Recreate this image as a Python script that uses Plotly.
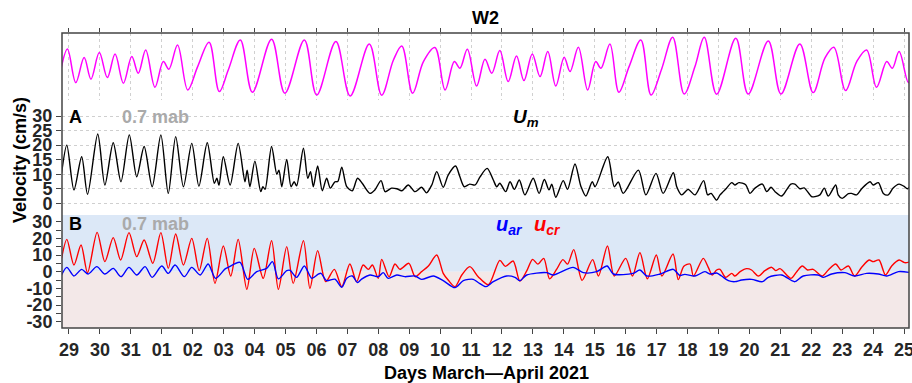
import plotly.graph_objects as go

# ---- data (time in days since 29 March 2021 00:00) ----
level_t = [-0.26, -0.05, 0.22, 0.49, 0.71, 0.98, 1.24, 1.49, 1.76, 2.03, 2.24, 2.48, 2.78, 3.05, 3.23,
           3.51, 3.84, 4.16, 4.53, 4.86, 5.15, 5.54, 5.93, 6.55, 6.98, 7.61, 8.01, 8.63, 9.09, 9.71,
           10.11, 10.49, 10.76, 11.11, 11.46, 11.83, 12.16, 12.46, 12.64, 12.88, 13.18, 13.45, 13.67,
           13.93, 14.20, 14.47, 14.71, 14.98, 15.23, 15.48, 15.74, 16.01, 16.20, 16.47, 16.77, 17.03,
           17.20, 17.49, 17.78, 18.11, 18.49, 18.82, 19.16, 19.52, 19.89, 20.24, 20.54, 20.94, 21.56,
           21.96, 22.61, 23.02, 23.63, 24.06, 24.44, 24.73, 25.11, 25.47, 25.79, 26.11, 26.44, 26.62,
           26.84, 27.14, 27.25]
level_m = [1.54, 2.55, 0.87, 2.12, 1.04, 2.37, 1.12, 2.30, 0.84, 2.17, 1.34, 2.50, 0.64, 1.92, 1.54,
           2.75, 0.50, 1.67, 2.89, 0.42, 1.50, 3.00, 0.39, 3.04, 0.34, 3.00, 0.25, 2.92, 0.20, 2.80,
           0.24, 2.00, 2.70, 0.34, 1.92, 2.62, 0.50, 1.92, 1.59, 2.54, 0.70, 2.04, 1.34,
           2.47, 0.92, 2.20, 0.97, 2.30, 1.17, 2.42, 0.70, 2.14, 1.42, 2.64, 0.50, 1.92,
           1.59, 2.80, 0.39, 1.67, 3.00, 0.25, 1.54, 3.14, 0.30, 1.67, 3.14, 0.29, 3.09,
           0.30, 2.95, 0.30, 2.80, 0.37, 2.09, 2.64, 0.47, 1.92, 2.50, 0.64, 1.92, 1.59,
           2.42, 0.87, 1.09]

um_t = [-0.24, -0.07, 0.16, 0.41, 0.60, 0.93, 1.16, 1.43, 1.68, 1.95, 2.19, 2.43, 2.69, 2.97, 3.21,
        3.45, 3.70, 3.97, 4.20, 4.47, 4.70, 4.78, 4.85, 4.99, 5.21, 5.47, 5.69, 5.76, 5.85, 6.01,
        6.20, 6.27, 6.34, 6.55, 6.72, 6.79, 6.88, 7.04, 7.18, 7.28, 7.36, 7.58, 7.72, 7.81, 7.90,
        8.04, 8.19, 8.33, 8.45, 8.60, 8.69, 8.82, 8.98, 9.16, 9.33, 9.48, 9.73, 9.89, 10.09, 10.22,
        10.43, 10.60, 10.76, 10.97, 11.19, 11.40, 11.56, 11.73, 11.89, 12.10, 12.26, 12.50, 12.64,
        12.78, 12.96, 13.13, 13.29, 13.52, 13.72, 13.83, 13.93, 14.12, 14.26, 14.40, 14.56, 14.74,
        15.01, 15.20, 15.37, 15.52, 15.61, 15.74, 15.98, 16.12, 16.36, 16.55, 16.71, 16.92, 17.01,
        17.42, 17.63, 17.76, 17.92, 18.41, 18.65, 18.98, 19.21, 19.54, 19.65, 19.81, 20.02, 20.24,
        20.52, 20.65, 20.76, 20.94, 21.05, 21.26, 21.43, 21.53, 21.66, 21.88, 22.02, 22.18, 22.42,
        22.56, 22.70, 22.83, 23.04, 23.20, 23.34, 23.47, 23.63, 23.77, 24.01, 24.12, 24.28, 24.42,
        24.55, 24.79, 24.87, 25.00, 25.20, 25.30, 25.47, 25.63, 25.90, 26.00, 26.17, 26.33, 26.49,
        26.64, 26.84, 26.99, 27.11, 27.22]
um_v = [10.3, 20.0, 4.6, 16.0, 3.1, 23.8, 6.3, 20.8, 7.4, 23.5, 9.1, 19.5, 5.7, 23.5, 3.4,
        22.9, 5.7, 20.6, 5.9, 20.8, 6.9, 8.6, 6.2, 16.0, 6.3, 20.6, 7.4, 11.4, 5.7, 14.5,
        4.0, 5.7, 4.8, 19.5, 10.0, 11.4, 5.7, 15.1, 5.7, 7.4, 6.0, 18.9, 8.6, 10.9, 5.7,
        12.8, 4.3, 8.6, 5.2, 7.4, 7.5, 12.4, 5.7, 4.3, 8.6, 6.9, 3.4, 4.6, 7.8, 4.0,
        5.2, 5.0, 4.3, 6.3, 4.0, 5.5, 3.6, 6.3, 10.9, 5.5, 9.7, 12.8, 9.1,
        5.7, 6.6, 6.3, 9.1, 12.0, 8.0, 5.7, 6.9, 4.0, 7.4, 4.8, 8.0, 2.9,
        8.6, 3.4, 8.2, 4.6, 6.6, 2.1, 7.8, 4.8, 13.5, 5.9, 2.5, 7.4, 5.7,
        16.0, 5.7, 7.3, 3.4, 11.4, 2.9, 10.3, 3.4, 10.5, 5.7, 2.9, 4.8, 2.9,
        7.8, 2.9, 3.4, 1.1, 2.9, 5.2, 7.1, 6.3, 7.1, 6.4, 3.4, 5.2, 6.6,
        4.0, 5.5, 4.0, 2.5, 4.6, 6.6, 6.6, 5.0, 5.3, 2.3, 2.3, 2.9, 5.2,
        2.5, 6.3, 2.9, 1.7, 3.3, 3.4, 2.9, 5.0, 7.4, 6.3, 7.1, 3.4, 2.9,
        5.2, 6.6, 5.9, 5.0, 6.3]

ucr_t = [-0.24, -0.07, 0.16, 0.39, 0.60, 0.91, 1.16, 1.43, 1.67, 1.94, 2.19, 2.43, 2.71, 2.97, 3.21,
         3.45, 3.70, 3.97, 4.21, 4.47, 4.72, 4.99, 5.23, 5.47, 5.75, 5.99, 6.28, 6.55, 6.77, 7.04,
         7.25, 7.58, 7.79, 8.04, 8.30, 8.58, 8.82, 9.08, 9.30, 9.51, 9.68, 9.81, 10.00, 10.11, 10.35,
         10.54, 10.70, 10.99, 11.19, 11.40, 11.62, 11.89, 12.10, 12.26, 12.48, 12.70, 12.96, 13.23,
         13.56, 13.93, 14.11, 14.36, 14.58, 14.80, 14.99, 15.16, 15.35, 15.54, 15.77, 15.97, 16.12,
         16.32, 16.59, 16.93, 17.12, 17.41, 17.63, 18.00, 18.22, 18.46, 18.70, 18.99, 19.17, 19.53,
         19.70, 19.88, 20.08, 20.19, 20.51, 20.67, 20.80, 20.94, 21.05, 21.23, 21.43, 21.53, 21.70,
         21.91, 22.07, 22.29, 22.50, 22.72, 22.85, 22.99, 23.34, 23.53, 23.71, 23.88, 24.06, 24.35,
         24.55, 24.79, 24.96, 25.20, 25.40, 25.63, 25.87, 26.00, 26.19, 26.40, 26.60, 26.84, 27.02,
         27.22]
ucr_v = [8.0, 19.4, 4.0, 16.0, -0.6, 23.6, 6.0, 20.4, 7.0, 23.4, 9.0, 19.0, 5.0, 23.4, 2.0,
         22.6, 4.0, 20.0, 0.6, 20.0, -7.0, 15.4, -2.6, 19.4, -10.6, 14.0, -4.0, 18.6, -10.6, 15.0,
         -7.0, 18.6, -10.0, 12.6, -6.0, 1.4, -9.0, 4.6, -6.0, 4.0, 1.4, 4.0, -4.0, 7.4, -3.0,
         4.6, 1.4, 5.0, -3.0, 0.0, 3.4, 10.0, -1.0, -5.0, -9.0, -2.0, 3.0, -3.0,
         -7.8, 6.8, 3.2, 6.4, -5.7, 0.5, 7.4, 4.5, 8.0, -4.3, 1.5, 7.2, 4.5,
         13.2, -5.2, 7.2, -2.6, 15.4, -2.6, 8.0, -2.6, 11.4, -4.3, 10.0, -2.6, 10.6,
         -4.8, 3.3, 4.6, -2.6, 8.0, 2.6, -2.0, 1.0, 1.4, -3.4, -1.0, -2.6, 0.0,
         1.8, 1.0, -2.6, 0.6, 2.6, 0.6, 1.8, -4.0, 0.0, 3.4, 1.0, 1.4, -2.6,
         1.0, 4.6, 1.0, 3.4, -2.6, 2.6, 7.0, 6.0, 7.0, -2.0, 3.4, 7.0, 5.4,
         6.0]

uar_t = [-0.24, -0.07, 0.16, 0.41, 0.62, 0.90, 1.16, 1.43, 1.68, 1.94, 2.19, 2.46, 2.69, 3.00, 3.21,
         3.43, 3.73, 3.97, 4.24, 4.50, 4.74, 5.04, 5.15, 5.53, 5.78, 6.07, 6.39, 6.58, 6.77, 7.04,
         7.15, 7.36, 7.61, 7.85, 8.06, 8.15, 8.33, 8.60, 8.82, 8.98, 9.16, 9.33, 9.46, 9.73, 10.00,
         10.16, 10.32, 10.60, 10.86, 11.19, 11.40, 11.78, 12.10, 12.48, 12.75, 13.07, 13.23, 13.48,
         13.72, 14.15, 14.42, 14.58, 14.80, 15.44, 15.66, 16.30, 16.63, 17.06, 17.40, 17.60, 18.24,
         18.46, 18.68, 19.11, 19.54, 19.75, 19.91, 20.24, 20.56, 20.72, 20.94, 21.10, 21.32, 21.53,
         21.75, 22.07, 22.42, 22.61, 23.04, 23.37, 23.47, 23.74, 24.22, 24.39, 24.66, 25.09, 25.40,
         25.79, 26.17, 26.44, 26.82, 27.22]
uar_v = [-2.0, 2.6, -2.6, 1.4, -1.4, 3.0, -1.4, 2.0, -3.0, 2.6, -2.0, 3.0, -3.4, 3.4, -1.0,
         4.0, -3.0, 2.6, -2.0, 4.6, -4.0, 1.5, 2.6, 5.6, -4.6, 0.0, 2.0, 6.0, -4.3, 0.6,
         0.8, -3.4, 3.4, -4.0, -1.5, -1.0, -5.4, -4.5, -9.4, -4.0, -2.6, -6.6, -4.5, -2.0, -3.0,
         -0.6, -4.0, -2.0, -3.0, -2.6, -4.6, -2.6, -5.4, -9.6, -5.4, -4.6, -6.5, -9.0,
         -6.0, -2.6, -3.4, -5.4, -2.0, -0.6, -2.0, 2.6, -0.6, 0.0, 3.4, -1.4, -1.0,
         1.0, -2.6, -1.4, 1.4, -2.3, -1.6, -2.6, 0.0, -1.4, -0.8, -2.6, -5.4, -6.0,
         -5.0, -4.6, -6.0, -3.4, -2.0, -5.4, -6.0, -2.6, -2.0, -3.4, -1.4, -0.6, -2.6,
         -1.0, -1.4, -2.6, 0.0, -0.6]

day_ticks = list(range(0, 28))
day_labels = ["29", "30", "31", "01", "02", "03", "04", "05", "06", "07", "08", "09", "10", "11",
              "12", "13", "14", "15", "16", "17", "18", "19", "20", "21", "22", "23", "24", "25"]
a_ticks = [0, 5, 10, 15, 20, 25, 30]
b_ticks = [-30, -20, -10, 0, 10, 20, 30]

# ---- layout geometry (pixels -> paper) ----
W, H = 912, 383
def px(x):
    return x / W
def py(y):
    return 1 - y / H

XL, XR = 62, 909
XRANGE = [-0.226, 27.16]
FONT = "Liberation Sans, Arial, sans-serif"
AX = "#444444"
TXT = "#262626"

fig = go.Figure()
fig.add_trace(go.Scatter(x=level_t, y=level_m, mode="lines", line=dict(color="#ff00ff", width=1.5, shape="spline", smoothing=1.0),
                         xaxis="x2", yaxis="y3", showlegend=False, hoverinfo="skip"))
fig.add_trace(go.Scatter(x=um_t, y=um_v, mode="lines", line=dict(color="black", width=1.4, shape="spline", smoothing=0.8),
                         xaxis="x", yaxis="y2", showlegend=False))
fig.add_trace(go.Scatter(x=ucr_t, y=ucr_v, mode="lines", line=dict(color="#ff0000", width=1.4, shape="spline", smoothing=0.8),
                         xaxis="x", yaxis="y", showlegend=False))
fig.add_trace(go.Scatter(x=uar_t, y=uar_v, mode="lines", line=dict(color="#0000ff", width=1.4, shape="spline", smoothing=0.8),
                         xaxis="x", yaxis="y", showlegend=False))

tickfont = dict(family=FONT, size=18, color=TXT)

fig.update_layout(
    width=W, height=H,
    margin=dict(l=0, r=0, t=0, b=0, autoexpand=False),
    paper_bgcolor="white", plot_bgcolor="rgba(0,0,0,0)",
    font=dict(family=FONT),
    xaxis=dict(domain=[px(XL), px(XR)], range=XRANGE, anchor="y", automargin=False,
               tickvals=day_ticks, ticktext=["<b>%s</b>" % s for s in day_labels],
               ticks="outside", ticklen=5, tickcolor=AX, tickwidth=1.2, ticklabeloverflow="allow",
               showgrid=False, zeroline=False, showline=False, tickfont=tickfont),
    xaxis2=dict(domain=[px(XL), px(XR)], range=XRANGE, anchor="y3", side="top", automargin=False,
                tickvals=day_ticks, showticklabels=False,
                ticks="outside", ticklen=4, tickcolor=AX, tickwidth=1.2,
                showgrid=True, gridcolor="#d0d0d0", griddash="dot", gridwidth=1,
                zeroline=False, showline=False),
    yaxis=dict(domain=[py(328), py(215)], range=[-33.8, 34.0], anchor="x", automargin=False,
               tickvals=b_ticks, ticktext=["<b>%d</b>" % v for v in b_ticks],
               ticks="outside", ticklen=5, tickcolor=AX, tickwidth=1.2,
               minor=dict(tickmode="linear", tick0=0, dtick=5, ticks="outside", ticklen=5,
                          tickcolor=AX, tickwidth=1.2, showgrid=False),
               showgrid=False, zeroline=False, showline=False, tickfont=tickfont),
    yaxis2=dict(domain=[py(210), py(100)], range=[-2.3, 35.5], anchor="x", automargin=False,
                tickvals=a_ticks, ticktext=["<b>%d</b>" % v for v in a_ticks],
                ticks="outside", ticklen=5, tickcolor=AX, tickwidth=1.2,
                showgrid=True, gridcolor="#cfcfcf", griddash="dot", gridwidth=1,
                zeroline=False, showline=False, tickfont=tickfont),
    yaxis3=dict(domain=[py(100), py(33)], range=[0, 3.35], anchor="x2", automargin=False,
                visible=False, showgrid=False, zeroline=False),
)

shapes = [
    dict(type="rect", xref="paper", yref="y", x0=px(XL), x1=px(XR), y0=0, y1=34.0,
         fillcolor="#dce8f7", line=dict(width=0), layer="below"),
    dict(type="rect", xref="paper", yref="y", x0=px(XL), x1=px(XR), y0=-33.8, y1=0,
         fillcolor="#f3e8e8", line=dict(width=0), layer="below"),
    dict(type="rect", xref="paper", yref="paper", x0=px(XL), x1=px(XR), y0=py(328), y1=py(33),
         line=dict(color=AX, width=1.5), fillcolor="rgba(0,0,0,0)", layer="above"),
]
fig.update_layout(shapes=shapes)

def ann(text, x, y, size=18, color="black", **kw):
    fig.add_annotation(text=text, x=px(x), y=py(y), xref="paper", yref="paper",
                       showarrow=False, font=dict(family=FONT, size=size, color=color),
                       xanchor="center", yanchor="middle", **kw)

ann("<b>W2</b>", 485, 18)
ann("<b>A</b>", 75, 117)
ann("<b>0.7 mab</b>", 155, 117, color="#aaaaaa")
ann("<b>B</b>", 75, 224)
ann("<b>0.7 mab</b>", 155, 224, color="#aaaaaa")
ann("<b><i>U</i><sub><i>m</i></sub></b>", 526, 118, size=19)
ann("<b><i>u</i><sub><i>ar</i></sub></b>", 509, 226, size=20, color="#0000ff")
ann("<b><i>u</i><sub><i>cr</i></sub></b>", 547, 226, size=20, color="#ff0000")
ann("<b>Velocity (cm/s)</b>", 20, 160, textangle=-90)
ann("<b>Days March\u2014April 2021</b>", 486, 373)

fig.write_html("out.html", config={"displayModeBar": False},
               post_script="document.body.style.margin='0';document.body.style.padding='0';")
